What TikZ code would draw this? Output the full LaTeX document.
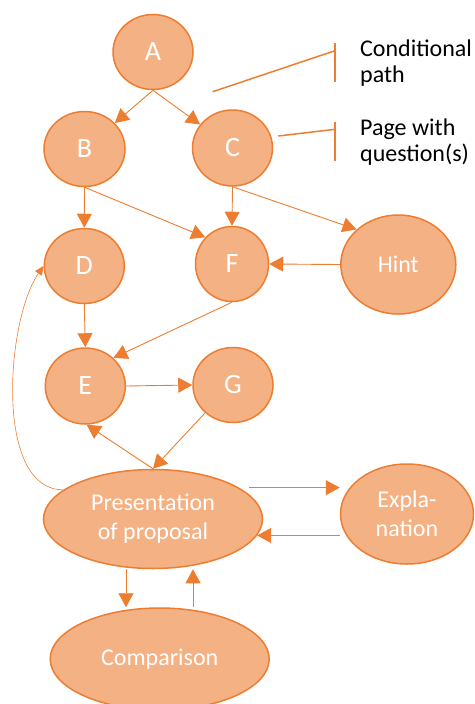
\documentclass[tikz,border=0pt]{standalone}
\usepackage{fontspec}
\setmainfont{Carlito}
\usetikzlibrary{shapes.geometric,arrows.meta,calc}
\definecolor{orfill}{HTML}{F4B183}
\definecolor{orline}{HTML}{ED7D31}
\begin{document}
\begin{tikzpicture}[x=1pt,y=-1pt,
  bub/.style={ellipse, draw=orline, fill=orfill, line width=1.5pt, inner sep=0pt, text=white, align=center},
  lett/.style={bub, font=\fontsize{28}{30}\selectfont},
  wrd/.style={bub, font=\fontsize{24}{29}\selectfont},
  arr/.style={draw=orline, line width=0.9pt, -{Triangle[length=14pt,width=15pt]}},
  arrthin/.style={draw=orline, line width=0.6pt, -{Triangle[length=9pt,width=8pt]}},
  leg/.style={draw=orline, line width=1.5pt},
  legtxt/.style={inner sep=0pt, align=left, text=black, font=\fontsize{24}{25.5}\selectfont}]
\useasboundingbox (0,0) rectangle (474,704);
% nodes
\node[lett, minimum width=80pt, minimum height=75pt] (A) at (153,52) {A};
\node[lett, minimum width=81pt, minimum height=75pt] (B) at (84.5,149) {B};
\node[lett, minimum width=80pt, minimum height=76pt] (C) at (232.5,148) {C};
\node[lett, minimum width=80pt, minimum height=75pt] (D) at (84.3,266) {D};
\node[lett, minimum width=73pt, minimum height=75pt] (F) at (232,264) {F};
\node[lett, minimum width=80pt, minimum height=76pt] (E) at (85.3,386) {E};
\node[lett, minimum width=80pt, minimum height=75pt] (G) at (233,385) {G};
\node[wrd, minimum width=115pt, minimum height=99pt] (Hint) at (398.3,264.5) {Hint};
\node[wrd, minimum width=219pt, minimum height=99pt] (P) at (153,519) {Presentation\\of proposal};
\node[wrd, minimum width=133pt, minimum height=100pt] (Expl) at (407,514) {Expla-\\nation};
\node[wrd, minimum width=219pt, minimum height=102pt] (Cmp) at (159.7,659) {Comparison};
% connectors
\draw[arr] (A.south) -- (B);
\draw[arr] (A.south) -- (C);
\draw[arr] (B.south) -- (D.north);
\draw[arr] (B.south) -- (F.135);
\draw[arr] (C.south) -- (F.north);
\draw[arr] (C.south) -- (Hint.140);
\draw[arr] (Hint.west) -- (F.east);
\draw[arr] (D.south) -- (E.north);
\draw[arr] (F.south) -- (E.45);
\draw[arr] (E.east) -- (G.west);
\draw[arr] (G.225) -- (P.north);
\draw[arr] (P.north) -- (E.-88);
\draw[arrthin] (P.162) .. controls (-6,490) and (6,320) .. (D.west);
\draw[arr] ([xshift=10pt]P.20) -- (P.20 -| Expl.west);
\draw[arr] (Expl.west |- P.-9) -- (P.-9);
\draw[arr] ([xshift=-27pt]P.south) -- ([xshift=-27pt]P.south |- Cmp.north);
\draw[arr] ([xshift=40pt]P.south |- Cmp.north) -- ([xshift=40pt]P.south);
% legend
\coordinate (c1a) at (212.7,91.7);
\coordinate (c1b) at (335,50.7);
\coordinate (c1t) at (335,43.3);
\coordinate (c1u) at (335,81.7);
\coordinate (c2a) at (278.3,136);
\coordinate (c2b) at (335,129.3);
\coordinate (c2t) at (335,121.7);
\coordinate (c2u) at (335,160.7);
\draw[leg] (c1a) -- (c1b);
\draw[leg] (c1t) -- (c1u);
\draw[leg] (c2a) -- (c2b);
\draw[leg] (c2t) -- (c2u);
\node[legtxt, anchor=north west] (t1) at (360,40) {Conditional\\path};
\node[legtxt, anchor=north west] (t2) at (360,119) {Page with\\question(s)};
\end{tikzpicture}
\end{document}
